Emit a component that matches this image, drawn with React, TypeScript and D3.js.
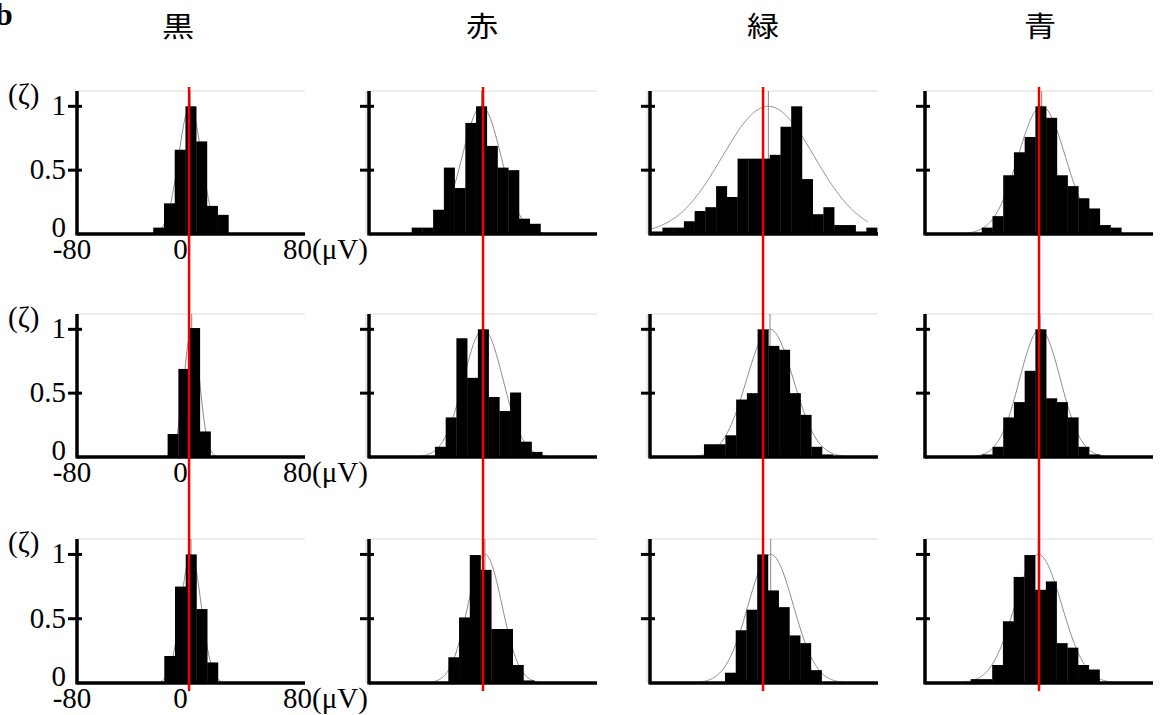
import * as d3 from 'd3';

// column headers (colour conditions)
const columns = ['黒', '赤', '緑', '青'];

// histogram bin width in µV and the left edge of the first bin, [column][row]
const binWidth = 7.7;
const binStart = [
  [-21.7, -11.4, -13.8],
  [-45.8, -29.1, -19.5],
  [-75.2, -37.7, -22.6],
  [-35.7, -35.7, -43.6],
];

// normalised bin heights, [column][row]
const heights = [
  [
    [0.05, 0.24, 0.66, 1.0, 0.725, 0.22, 0.15],
    [0.18, 0.69, 1.01, 0.2],
    [0.21, 0.75, 1.0, 0.575, 0.16],
  ],
  [
    [0.05, 0.05, 0.19, 0.52, 0.36, 0.87, 1.0, 0.69, 0.52, 0.5, 0.12, 0.08],
    [0.08, 0.31, 0.93, 0.62, 1.0, 0.47, 0.36, 0.505, 0.12, 0.04],
    [0.2, 0.51, 0.995, 0.88, 0.42, 0.42, 0.14, 0.02],
  ],
  [
    [0.02, 0.05, 0.05, 0.1, 0.18, 0.21, 0.375, 0.29, 0.59, 0.59, 0.59, 0.62, 0.84, 1.0, 0.43, 0.155, 0.21, 0.07, 0.07, 0.02, 0.05],
    [0.1, 0.1, 0.17, 0.45, 0.5, 1.0, 0.87, 0.84, 0.5, 0.33, 0.08, 0.02],
    [0.08, 0.41, 0.57, 1.0, 0.72, 0.59, 0.37, 0.31, 0.1],
  ],
  [
    [0.05, 0.14, 0.46, 0.64, 0.76, 1.0, 0.91, 0.46, 0.375, 0.28, 0.2, 0.07, 0.05],
    [0.02, 0.08, 0.31, 0.43, 0.675, 1.0, 0.46, 0.43, 0.31, 0.08, 0.02],
    [0.03, 0.03, 0.14, 0.48, 0.825, 0.995, 0.725, 0.79, 0.31, 0.275, 0.14, 0.105],
  ],
];

// fitted gaussian: mean and sigma in µV, [column][row]
const fitMean = [
  [4.7, 5.9, 5.4],
  [4.4, 5.6, 6.8],
  [8.5, 9.7, 10.2],
  [7.3, 6.1, 4.9],
];
const fitSigma = [
  [8.2, 5.6, 7.3],
  [14.0, 14.2, 12.2],
  [33.0, 16.8, 16.2],
  [17.0, 14.7, 16.8],
];

// red reference line per column (µV)
const refLine = [4, 5.4, 4.7, 5.4];

const xTicks = ['-80', '0', '80'];
const yTicks = [0, 0.5, 1];

// layout
const axisX = [77, 369, 650, 925];
const panelW = 228;
const rows = [
  { base: 234, top: 91 },
  { base: 457, top: 314 },
  { base: 683, top: 539 },
];
const headerX = [178, 482, 763, 1040];
const serif = "'Liberation Serif', 'Times New Roman', 'DejaVu Serif', serif";
const serifText = { fontFamily: serif, fontSize: 29, fill: '#000' };

const Panel = ({ c, r }: { c: number; r: number }) => {
  const ax = axisX[c];
  const { base, top } = rows[r];
  const x = d3.scaleLinear().domain([-80, 80]).range([ax - 5, ax + 218]);
  const y = d3.scaleLinear().domain([0, 1.12]).range([base, top]);
  const right = ax + panelW;
  const mu = fitMean[c][r];
  const sd = fitSigma[c][r];
  const xs = d3.range(-80, 80.01, 0.5).filter((v) => x(v) >= ax && x(v) <= right);
  const curve = d3
    .line<number>()
    .x((v) => x(v))
    .y((v) => y(Math.exp(-((v - mu) ** 2) / (2 * sd * sd))))(xs);
  const bw = x(binWidth) - x(0);

  return (
    <g>
      <line x1={ax} x2={right} y1={top} y2={top} stroke='#dcdcdc' strokeWidth={1} />
      {c > 0 && c < 3 && (
        <line x1={ax - 3} x2={ax - 3} y1={top} y2={base} stroke='#d6d0c6' strokeWidth={1} />
      )}
      <line x1={x(mu)} x2={x(mu)} y1={top} y2={base} stroke='#888' strokeWidth={1} />
      <path d={curve ?? ''} fill='none' stroke='#8a8a8a' strokeWidth={1} />
      {heights[c][r].map((h, i) => (
        <rect
          key={i}
          x={x(binStart[c][r] + i * binWidth)}
          width={bw + 0.3}
          y={y(h)}
          height={y(0) - y(h)}
          fill='#000'
        />
      ))}
      {/* axes */}
      <line x1={ax} x2={right} y1={base} y2={base} stroke='#000' strokeWidth={3.5} />
      <line x1={ax} x2={ax} y1={top} y2={base + 1.5} stroke='#000' strokeWidth={3.5} />
      {yTicks
        .filter((t) => t > 0)
        .map((t) => (
          <line key={t} x1={ax - 9} x2={ax + 5} y1={y(t)} y2={y(t)} stroke='#000' strokeWidth={3} />
        ))}
      {c === 0 && (
        <g>
          {yTicks.map((t) => (
            <text key={t} style={serifText} x={ax - 11} y={y(t) + (t === 0 ? 3 : 9)} textAnchor='end'>
              {t}
            </text>
          ))}
          <text style={serifText} x={8} y={y(1) - 2}>(ζ)</text>
          <text style={serifText} x={x(-80)} y={base + 25} textAnchor='middle'>{xTicks[0]}</text>
          <text style={serifText} x={x(0) - 3} y={base + 25} textAnchor='middle'>{xTicks[1]}</text>
          <text style={serifText} x={x(80) - 12} y={base + 25}>{xTicks[2]}(μV)</text>
        </g>
      )}
    </g>
  );
};

const App = () => {
  return (
    <svg
      width={1161}
      height={715}
      style={{ position: 'absolute', left: 0, top: 0, background: '#fff' }}
    >
      <text x={-5} y={25} style={{ fontFamily: serif, fontWeight: 'bold', fontSize: 32 }}>
        b
      </text>
      {columns.map((name, c) => (
        <text
          key={name}
          transform={`translate(${headerX[c]},37) scale(1.15,1)`}
          textAnchor='middle'
          style={{ fontFamily: "'Noto Sans CJK JP', 'Noto Sans CJK SC', sans-serif", fontSize: 28 }}
        >
          {name}
        </text>
      ))}
      {columns.map((_, c) => rows.map((__, r) => <Panel key={`${c}-${r}`} c={c} r={r} />))}
      {refLine.map((v, c) => {
        const x = d3.scaleLinear().domain([-80, 80]).range([axisX[c] - 5, axisX[c] + 218]);
        return (
          <line
            key={c}
            x1={x(v)}
            x2={x(v)}
            y1={rows[0].top - 4}
            y2={rows[2].base + 8}
            stroke='#ee0000'
            strokeWidth={2.5}
          />
        );
      })}
    </svg>
  );
};

export default App;
